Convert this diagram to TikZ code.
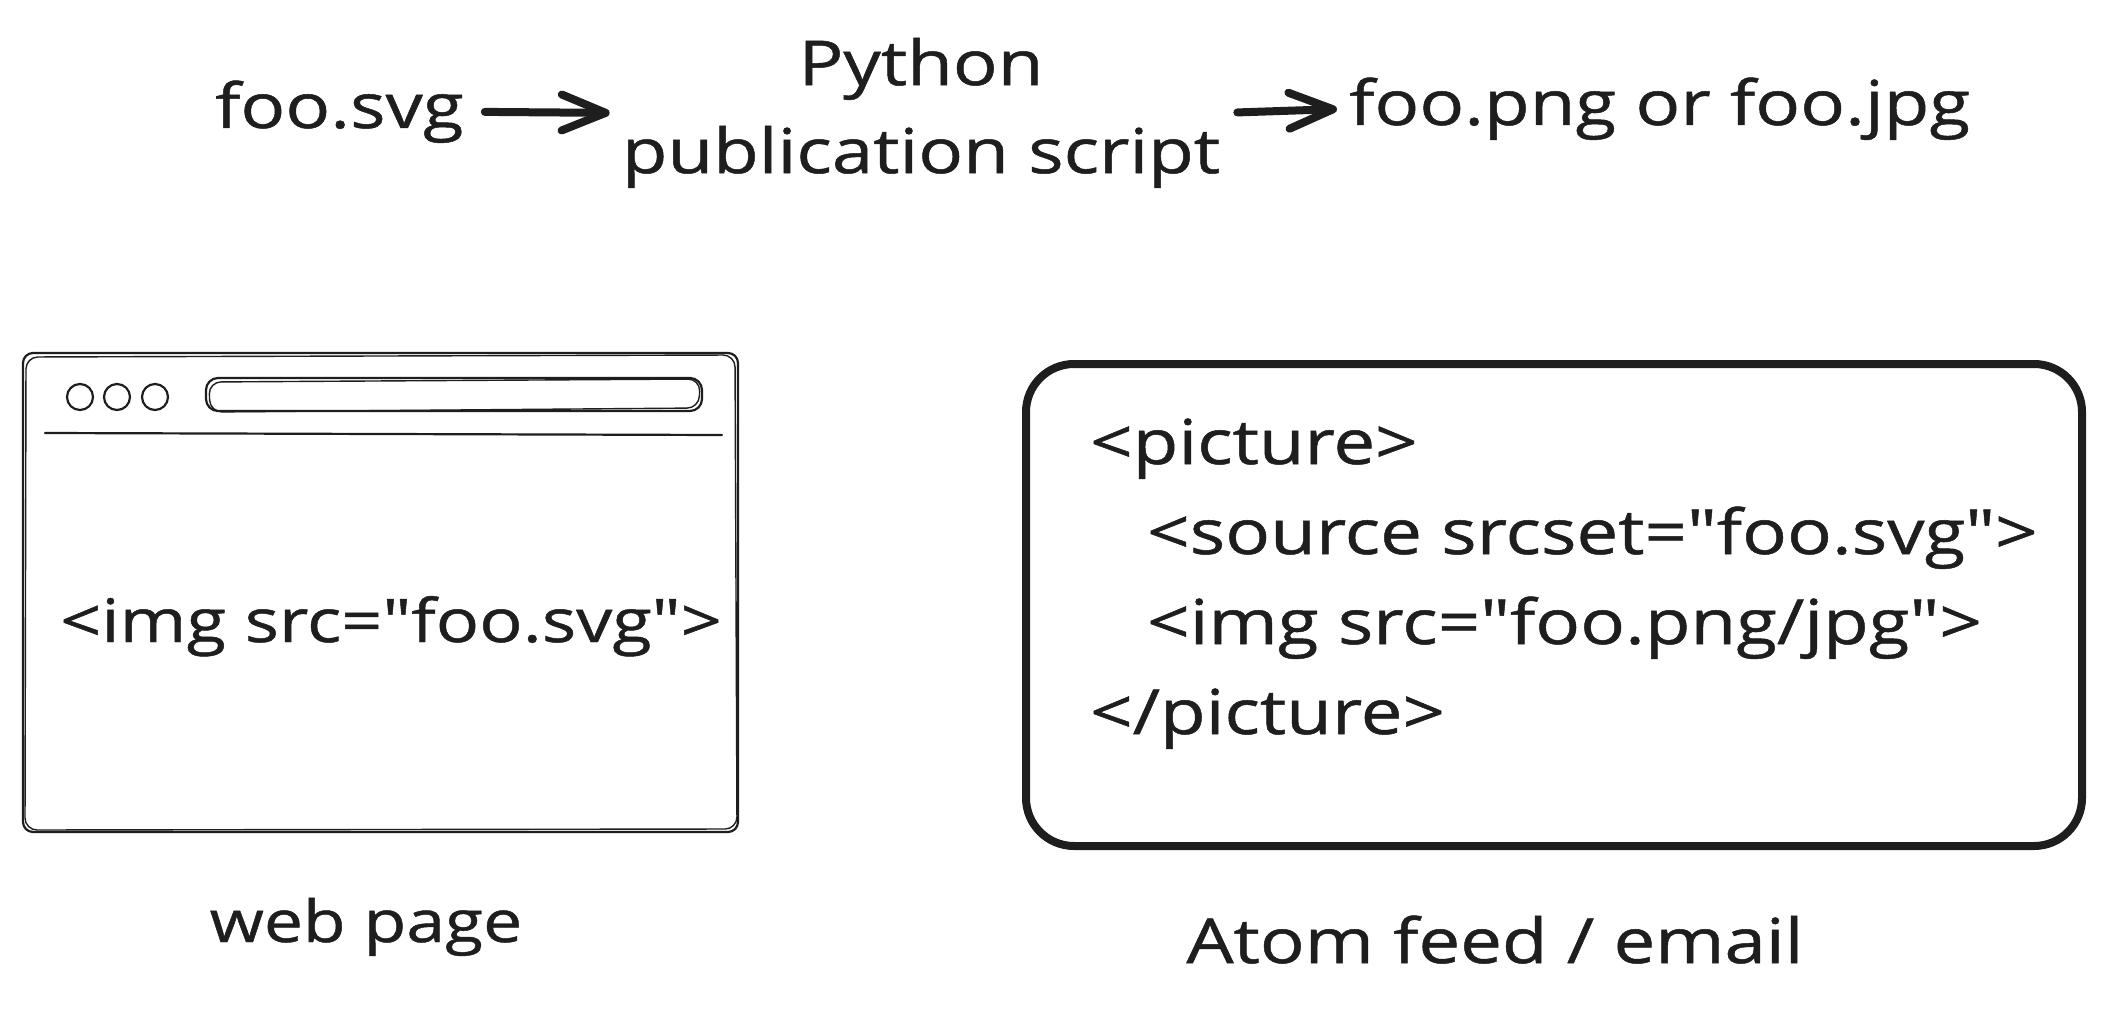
\documentclass[tikz,border=0pt]{standalone}
\usepackage{fontspec}
\setmainfont{Open Sans}[FakeStretch=1.2, FakeBold=0.8, Ligatures=TeXOff]
\usetikzlibrary{arrows.meta}
\definecolor{ink}{HTML}{1E1E1E}
\begin{document}
\begin{tikzpicture}[x=1pt,y=-1pt,
  txt/.style={text=ink, inner sep=0pt, font=\fontsize{62}{88}\selectfont},
  arr/.style={draw=ink, line width=8pt, line cap=round, -{Straight Barb[length=44pt,width=36pt,line cap=round,line join=round]}},
  sketch/.style={draw=ink, line width=2.2pt, line cap=round, line join=round},
  sketchthin/.style={draw=ink, line width=1.4pt, line cap=round, line join=round},
  heavybox/.style={draw=ink, line width=8pt, rounded corners=48pt}]
\fill[white] (0,0) rectangle (2104,1011);
\useasboundingbox (0,0) rectangle (2104,1011);

% top row
\node[txt, anchor=base west] (svg) at (215,128) {foo.svg};
\node[txt, align=center] (script) at (921,113) {Python\\publication script};
\node[txt, anchor=base west] (png) at (1349,125) {foo.png or foo.jpg};
\draw[arr, shorten <=21pt, shorten >=12pt] (svg.east) -- (script.west);
\draw[arr, shorten <=17pt, shorten >=12pt] (script.east) -- (png.west);

% browser window
\draw[sketch, rounded corners=10pt] (23,353) rectangle (738,832);
\draw[sketchthin, rounded corners=12pt] (26,357) -- (735,355) -- (737,829) -- (25,830) -- cycle;
\draw[sketch] (80,397) circle (13);
\draw[sketch] (117,397) circle (13);
\draw[sketch] (155,397) circle (13);
\draw[sketch, rounded corners=12pt] (206,378) rectangle (702,411);
\draw[sketchthin, rounded corners=12pt] (209,382) -- (700,379) -- (699,408) -- (210,412) -- cycle;
\draw[sketch] (45,433) -- (722,435);
\node[txt, anchor=base west, font=\fontsize{60}{72}\selectfont] (imgsvg) at (60,642) {<img src="foo.svg">};

% atom / email box
\draw[heavybox] (1026,364) rectangle (2082,846);
\node[txt, anchor=base west] (l1) at (1090,464) {<picture>};
\node[txt, anchor=base west] (l2) at (1147,554) {<source srcset="foo.svg">};
\node[txt, anchor=base west] (l3) at (1147,644) {<img src="foo.png/jpg">};
\node[txt, anchor=base west] (l4) at (1090,734) {</picture>};

% labels
\node[txt, anchor=base, font=\fontsize{58}{70}\selectfont] (web) at (366,942) {web page};
\node[txt, anchor=base] (atom) at (1495,963) {Atom feed / email};
\end{tikzpicture}
\end{document}
